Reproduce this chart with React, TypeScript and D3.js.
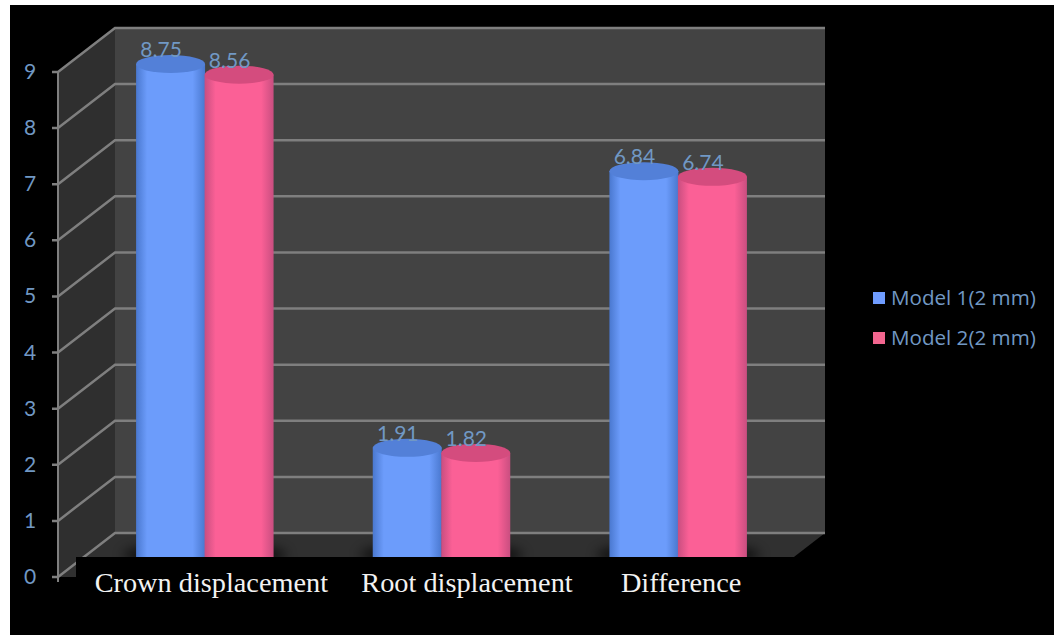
import React from "react";
import * as d3 from "d3";

// Chart contents
const categories = ["Crown displacement", "Root displacement", "Difference"];
const seriesNames = ["Model 1(2 mm)", "Model 2(2 mm)"];
const model1 = [8.75, 1.91, 6.84];
const model2 = [8.56, 1.82, 6.74];
const yTicks = [0, 1, 2, 3, 4, 5, 6, 7, 8, 9];

// Hand-placed category captions sit slightly off their group centres
const captionNudge = [6.5, 25.5, 3];

// Frame of the 3D plot box
const W = 1060;
const H = 635;
const frontLeft = 58;
const frontRight = 768;
const depthX = 57;
const depthY = 44;

const y = d3.scaleLinear().domain([0, 9]).range([577, 72]);
const xGroup = d3
  .scaleBand<string>()
  .domain(categories)
  .range([frontLeft + depthX / 2, frontRight + depthX / 2])
  .padding(0);
const xSeries = d3.scaleBand<string>().domain(seriesNames).range([-68.5, 68.5]);

const palette = [
  { edge: "#4a78cf", mid: "#6c9cfb", cap: "#5380d8" },
  { edge: "#c94e80", mid: "#fb6096", cap: "#d44c7e" },
];
const swatch = ["#6f9cff", "#f2668f"];
const labelBlue = "#7198c4";

const rx = 34.5;
const ry = 9;
const midX = depthX / 2;
const midY = depthY / 2;
const floorCut = 557;

function Cylinder({ cx, value, idx }: { cx: number; value: number; idx: number }) {
  const top = y(value) - midY;
  const p = d3.path();
  p.moveTo(cx - rx, top);
  p.lineTo(cx - rx, floorCut);
  p.lineTo(cx + rx, floorCut);
  p.lineTo(cx + rx, top);
  p.closePath();
  return (
    <g>
      <path d={p.toString()} fill={`url(#body${idx})`} />
      <ellipse cx={cx} cy={top} rx={rx} ry={ry} fill={palette[idx].cap} />
    </g>
  );
}

export default function App() {
  const series = [model1, model2];
  const groupCentre = (c: string) => (xGroup(c) as number) + xGroup.bandwidth() / 2;
  const barCentre = (c: string, s: string) =>
    groupCentre(c) + (xSeries(s) as number) + xSeries.bandwidth() / 2;
  return (
    <svg
      width={W}
      height={H}
      viewBox={`0 0 ${W} ${H}`}
      style={{ position: "absolute", left: 0, top: 0, background: "#fff" }}
    >
      <defs>
        {palette.map((c, i) => (
          <linearGradient key={i} id={`body${i}`} x1="0" x2="1" y1="0" y2="0">
            <stop offset="0" stopColor={c.edge} />
            <stop offset="0.16" stopColor={c.mid} />
            <stop offset="0.82" stopColor={c.mid} />
            <stop offset="1" stopColor={c.edge} />
          </linearGradient>
        ))}
        <filter id="soft" x="-30%" y="-100%" width="160%" height="300%">
          <feGaussianBlur stdDeviation="6" />
        </filter>
      </defs>

      <rect x={10} y={5} width={1044} height={630} fill="#000" />

      {/* walls and floor */}
      <polygon
        points={`${frontLeft},${y(9)} ${frontLeft + depthX},${y(9) - depthY} ${frontLeft + depthX},${y(0) - depthY} ${frontLeft},${y(0)}`}
        fill="#2f2f2f"
      />
      <rect
        x={frontLeft + depthX}
        y={y(9) - depthY}
        width={frontRight - frontLeft}
        height={y(0) - y(9)}
        fill="#434343"
      />
      <polygon
        points={`${frontLeft},${y(0)} ${frontLeft + depthX},${y(0) - depthY} ${frontRight + depthX},${y(0) - depthY} ${frontRight},${y(0)}`}
        fill="#303030"
      />

      {/* gridlines across both walls */}
      {yTicks.map((t) => (
        <path
          key={t}
          d={`M${frontLeft - 6},${y(t)}L${frontLeft},${y(t)}L${frontLeft + depthX},${y(t) - depthY}L${frontRight + depthX},${y(t) - depthY}`}
          stroke="#7f7f7f"
          strokeWidth={2.5}
          fill="none"
        />
      ))}
      <line x1={frontLeft} x2={frontLeft} y1={y(9)} y2={y(0) + 5} stroke="#7f7f7f" strokeWidth={2} />

      {/* contact shadows on the floor */}
      {categories.map((c) => (
        <ellipse
          key={c}
          cx={groupCentre(c)}
          cy={floorCut - 2}
          rx={82}
          ry={12}
          fill="#000"
          opacity={0.65}
          filter="url(#soft)"
        />
      ))}

      {/* panel behind the category labels */}
      <rect x={76} y={floorCut} width={718} height={50} fill="#000" />

      {/* cylinders */}
      {categories.map((c, ci) =>
        seriesNames.map((s, si) => (
          <Cylinder key={s} cx={barCentre(c, s)} value={series[si][ci]} idx={si} />
        ))
      )}

      {/* data labels */}
      {categories.map((c, ci) =>
        seriesNames.map((s, si) => (
          <text
            key={s}
            x={barCentre(c, s) - 9.5}
            y={y(series[si][ci]) - midY - 7}
            textAnchor="middle"
            fontFamily="Lato"
            fontSize={21}
            fill={labelBlue}
          >
            {series[si][ci].toFixed(2)}
          </text>
        ))
      )}

      {/* value axis labels */}
      {yTicks.map((t) => (
        <text
          key={t}
          x={30}
          y={y(t) + 7}
          textAnchor="middle"
          fontFamily="Lato"
          fontSize={21}
          fill={labelBlue}
        >
          {t}
        </text>
      ))}

      {/* category labels */}
      {categories.map((c, i) => (
        <text
          key={c}
          x={groupCentre(c) + captionNudge[i]}
          y={592}
          textAnchor="middle"
          fontFamily="Liberation Serif"
          fontSize={28.3}
          fill="#f2f2f2"
        >
          {c}
        </text>
      ))}

      {/* legend */}
      {seriesNames.map((s, i) => {
        const ly = d3.scaleBand<string>().domain(seriesNames).range([277, 357])(s) as number;
        return (
          <g key={s}>
            <rect x={873} y={ly + 15} width={12} height={12} fill={swatch[i]} />
            <text x={891} y={ly + 28} fontFamily="Open Sans" fontSize={20.6} fill={labelBlue}>
              {s}
            </text>
          </g>
        );
      })}
    </svg>
  );
}
